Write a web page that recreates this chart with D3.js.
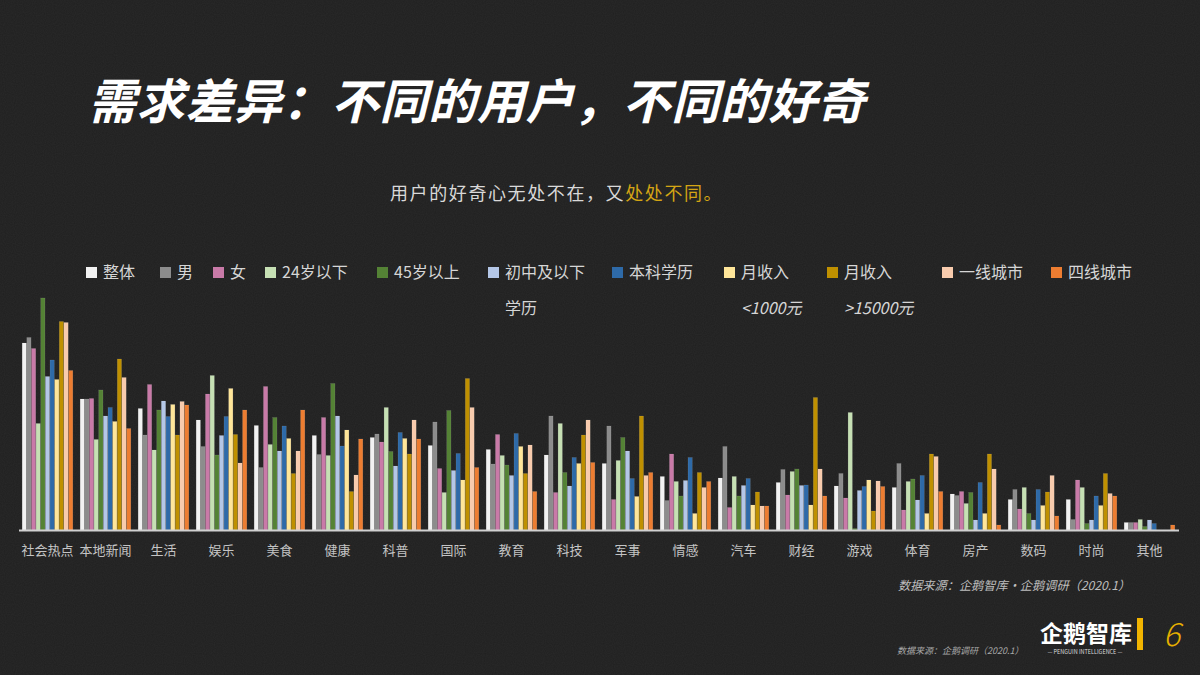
<!DOCTYPE html>
<html><head><meta charset="utf-8">
<script src="https://cdn.jsdelivr.net/npm/d3@7/dist/d3.min.js"></script>
<style>
html,body{margin:0;padding:0;background:#1f1f1f;}
svg{display:block;}
text{font-family:"Noto Sans CJK SC","Noto Sans",sans-serif;}
</style></head>
<body>
<script>
// ---- data ----
const categories = ["社会热点","本地新闻","生活","娱乐","美食","健康","科普","国际","教育","科技","军事","情感","汽车","财经","游戏","体育","房产","数码","时尚","其他"];
const seriesNames = ["整体","男","女","24岁以下","45岁以上","初中及以下学历","本科学历","月收入<1000元","月收入>15000元","一线城市","四线城市"];
const legendLine1 = ["整体","男","女","24岁以下","45岁以上","初中及以下","本科学历","月收入","月收入","一线城市","四线城市"];
const legendLine2 = ["","","","","","学历","","<1000元",">15000元","",""];
const vAll    = [37.4,26.2,24.3,22.0,20.9,18.9,18.5,16.9,16.1,15.0,13.3,10.7,10.4,9.5,8.8,8.5,7.2,6.1,6.1,1.5];
const vMale   = [38.5,26.2,19.0,16.7,12.5,15.1,19.2,21.6,13.2,22.8,20.8,5.9,16.7,12.1,11.3,13.3,6.9,8.1,2.1,1.5];
const vFemale = [36.3,26.3,29.1,27.2,28.7,22.5,17.6,12.3,19.1,7.5,6.1,15.2,4.5,7.0,6.4,4.0,7.7,4.2,10.0,1.5];
const vU24    = [21.3,18.1,16.0,30.9,17.1,14.9,24.5,7.5,14.9,21.3,13.9,9.7,10.7,11.7,23.5,9.7,5.3,8.5,8.5,2.1];
const vO45    = [46.4,28.0,24.0,15.0,22.5,29.3,15.7,23.9,13.0,11.5,18.5,6.8,6.8,12.2,0.3,10.2,7.5,3.3,1.3,0.7];
const vJunior = [30.7,22.8,25.8,18.9,15.8,22.8,12.8,11.9,10.9,8.8,15.8,9.9,8.9,8.9,7.9,6.0,2.0,2.0,2.0,2.0];
const vBach   = [34.0,24.5,22.7,22.7,20.8,16.8,19.5,15.3,19.3,14.5,10.3,14.5,10.3,9.0,8.7,10.9,9.5,8.1,6.8,1.3];
const vLowInc = [30.1,21.7,25.1,28.3,18.3,20.0,18.3,10.0,16.7,13.3,6.7,3.3,5.0,5.0,10.0,3.3,3.3,4.9,4.9,0];
const vHighInc= [41.7,34.2,19.0,19.1,11.3,7.7,15.2,30.3,11.3,19.0,22.8,11.5,7.6,26.5,3.8,15.2,15.2,7.6,11.3,0];
const vTier1  = [41.5,30.5,25.7,13.4,15.8,11.0,22.0,24.5,17.0,22.0,10.9,8.5,4.8,12.2,9.8,14.7,12.2,10.9,7.3,0];
const vTier4  = [31.9,20.3,25.0,24.0,24.0,18.2,18.2,12.5,7.7,13.5,11.5,9.7,4.8,6.8,8.7,7.7,1.0,2.8,6.8,1.0];
const seriesValues = [vAll,vMale,vFemale,vU24,vO45,vJunior,vBach,vLowInc,vHighInc,vTier1,vTier4];

// ---- styles ----
const colors = ["#f2f2f2","#8c8c8c","#c97aa8","#c6e0b4","#548235","#b4c7e7","#2e6aa8","#ffe699","#bf9000","#f8cbad","#ed7d31"];
const legendX = [86,160,213,265,377,488,612,724,827,942,1051];

const W=1200,H=675;
const svg=d3.select("body").append("svg").attr("width",W).attr("height",H);

// background with subtle texture
const defs=svg.append("defs");
const f=defs.append("filter").attr("id","noise");
f.append("feTurbulence").attr("type","fractalNoise").attr("baseFrequency",0.9).attr("numOctaves",1).attr("result","n");
f.append("feColorMatrix").attr("type","matrix").attr("values","0 0 0 0 1  0 0 0 0 1  0 0 0 0 1  0 0 0 0.05 0");
svg.append("rect").attr("width",W).attr("height",H).attr("fill","#1f1f1f");
svg.append("rect").attr("width",W).attr("height",H).attr("filter","url(#noise)");

// title
svg.append("text").attr("x",88).attr("y",119).text("需求差异：不同的用户，不同的好奇")
  .attr("fill","#ffffff").attr("font-size",48).attr("letter-spacing",0.6).attr("font-weight",700).attr("font-style","italic");

// subtitle
const sub=svg.append("text").attr("x",390).attr("y",200).attr("font-size",18).attr("letter-spacing",1.6).attr("fill","#d9d9d9");
sub.append("tspan").text("用户的好奇心无处不在，又");
sub.append("tspan").attr("fill","#d4a514").text("处处不同。");

// scales
const x0=d3.scaleBand().domain(categories).range([18.5,1178.5]).paddingInner(0.12).paddingOuter(0.06);
const x1=d3.scaleBand().domain(seriesNames).range([0,x0.bandwidth()]);
const y=d3.scaleLinear().domain([0,50]).range([530,280]);

// bars
const g=svg.append("g");
const groups=g.selectAll("g.cat").data(categories).join("g").attr("class","cat")
  .attr("transform",d=>`translate(${x0(d)},0)`);
groups.selectAll("rect").data((c,ci)=>seriesNames.map((s,si)=>({s,si,v:seriesValues[si][ci]})))
  .join("rect")
  .attr("x",d=>x1(d.s)+0.2)
  .attr("width",x1.bandwidth()-0.4)
  .attr("y",d=>y(d.v))
  .attr("height",d=>y(0)-y(d.v))
  .attr("fill",(d)=>colors[d.si])
  .attr("stroke","rgba(255,255,255,0.18)").attr("stroke-width",0.5);

// axis
const ax=svg.append("g").attr("transform",`translate(0,${y(0)})`)
  .call(d3.axisBottom(x0).tickSize(0).tickPadding(16).tickSizeOuter(0));
ax.select(".domain").attr("stroke","#d0d0d0").attr("stroke-width",2);
ax.selectAll("text").attr("fill","#c4c4c4").attr("font-size",13)
  .attr("font-family","'Noto Sans CJK SC',sans-serif");

// legend
const lg=svg.append("g");
seriesNames.forEach((s,i)=>{
  lg.append("rect").attr("x",legendX[i]).attr("y",267).attr("width",11).attr("height",11).attr("fill",colors[i]);
  lg.append("text").attr("x",legendX[i]+17).attr("y",278).text(legendLine1[i])
    .attr("fill","#d6d6d6").attr("font-size",16);
  if(legendLine2[i]) lg.append("text").attr("x",legendX[i]+17).attr("y",314).text(legendLine2[i])
    .attr("fill","#d6d6d6").attr("font-size",16).attr("font-style",legendLine2[i].startsWith("学")?"normal":"italic");
});

// footer source
svg.append("text").attr("x",898).attr("y",590).text("数据来源：企鹅智库·企鹅调研（2020.1）")
  .attr("fill","#bdbdbd").attr("font-size",12.2).attr("font-style","italic");
svg.append("text").attr("x",897).attr("y",654).text("数据来源：企鹅调研（2020.1）")
  .attr("fill","#a8a8a8").attr("font-size",9).attr("font-style","italic");

// logo
svg.append("text").attr("x",1040).attr("y",642).text("企鹅智库")
  .attr("fill","#ffffff").attr("font-size",23).attr("font-weight",700);
svg.append("text").attr("x",1085).attr("y",654).attr("text-anchor","middle").text("— PENGUIN INTELLIGENCE —")
  .attr("fill","#dddddd").attr("font-size",5.5).attr("font-family","'DejaVu Sans',sans-serif");
svg.append("rect").attr("x",1137).attr("y",618).attr("width",6).attr("height",32).attr("fill","#f2b400");
svg.append("text").attr("x",1163).attr("y",646).text("6")
  .attr("fill","#e6b000").attr("font-size",32).attr("font-style","italic").attr("font-family","'DejaVu Sans',sans-serif").attr("font-weight",300);
</script>
</body></html>
